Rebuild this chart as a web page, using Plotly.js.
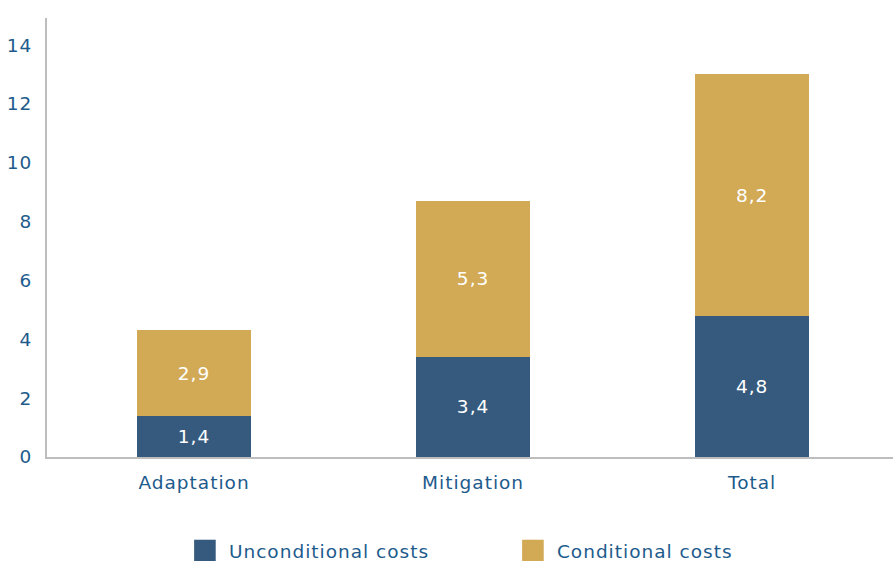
<!DOCTYPE html>
<html>
<head>
<meta charset="utf-8">
<script src="https://cdn.plot.ly/plotly-3.0.1.min.js"></script>
<style>
html,body{margin:0;padding:0;background:#fff}
#chart{width:893px;height:561px}
#chart text{letter-spacing:1px}
</style>
</head>
<body>
<div id="chart"></div>
<script>
const categories = ["Adaptation", "Mitigation", "Total"];
const unconditional = [1.4, 3.4, 4.8];
const conditional = [2.9, 5.3, 8.2];
const seriesNames = ["Unconditional costs", "Conditional costs"];
const yTicks = [0, 2, 4, 6, 8, 10, 12, 14];

const textColor = "#1d5b8c";
const fontFam = "'DejaVu Sans', 'Noto Sans', sans-serif";

const traces = [
  {
    type: "bar", name: seriesNames[0], x: categories, y: unconditional,
    marker: {color: "#365a7e"}, width: 0.41,
    texttemplate: "%{y:.1f}", textposition: "inside", insidetextanchor: "middle",
    textfont: {color: "#ffffff", size: 18.5, family: fontFam}, hoverinfo: "none"
  },
  {
    type: "bar", name: seriesNames[1], x: categories, y: conditional,
    marker: {color: "#d2a955"}, width: 0.41,
    texttemplate: "%{y:.1f}", textposition: "inside", insidetextanchor: "middle",
    textfont: {color: "#ffffff", size: 18.5, family: fontFam}, hoverinfo: "none"
  }
];

const layout = {
  width: 893, height: 561,
  margin: {l: 47, r: 0, t: 18, b: 103.5, pad: 0, autoexpand: false},
  barmode: "stack",
  separators: ", ",
  paper_bgcolor: "#ffffff", plot_bgcolor: "#ffffff",
  font: {family: fontFam, color: textColor, size: 18.5},
  xaxis: {
    range: [-0.527, 2.505], showgrid: false, zeroline: false,
    showline: true, linecolor: "#bdbdbd", linewidth: 2,
    ticks: "", tickfont: {size: 18.5, color: textColor}, ticklabelstandoff: 8
  },
  yaxis: {
    range: [0, 14.92], tickvals: yTicks, showgrid: false, zeroline: false,
    showline: true, linecolor: "#bdbdbd", linewidth: 2,
    ticks: "", tickfont: {size: 18.5, color: textColor}, ticklabelstandoff: 9
  },
  showlegend: true,
  legend: {
    orientation: "h", x: 0.546, xanchor: "center",
    yref: "container", y: 0, yanchor: "bottom",
    font: {size: 18.5, color: textColor}, traceorder: "normal", entrywidth: 275,
    itemwidth: 38
  }
};

Plotly.newPlot("chart", traces, layout, {displayModeBar: false, staticPlot: true}).then(function(gd){
  // enlarge legend swatches to match the reference's square markers
  gd.querySelectorAll(".legend .legendpoints path").forEach(function(p){
    const t = p.getAttribute("transform") || "";
    p.setAttribute("transform", t + " scale(1.8)");
  });
  // nudge the legend down to sit on the bottom edge like the reference
  const lg = gd.querySelector(".legend");
  if (lg) {
    const m = /translate\(([-\d.]+)[ ,]+([-\d.]+)\)/.exec(lg.getAttribute("transform") || "");
    if (m) lg.setAttribute("transform", "translate(" + m[1] + "," + (parseFloat(m[2]) + 9) + ")");
  }
});
</script>
</body>
</html>
